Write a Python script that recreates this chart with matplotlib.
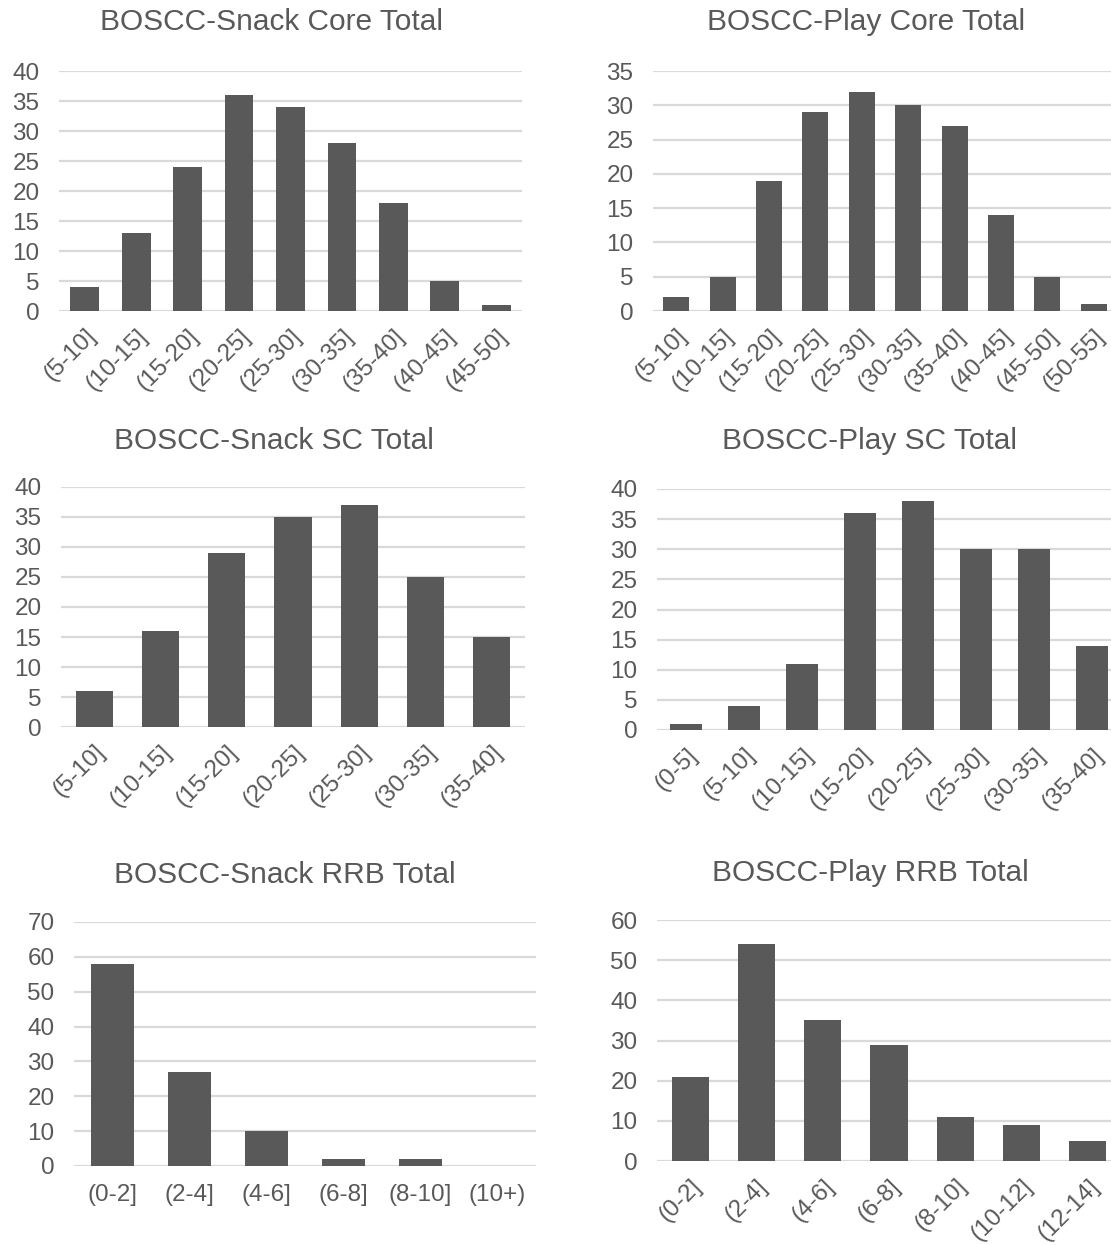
import matplotlib
matplotlib.use('agg')
import matplotlib.pyplot as plt

# score distributions (number of children per score bin)
snack_core_bins = ['(5-10]', '(10-15]', '(15-20]', '(20-25]', '(25-30]', '(30-35]', '(35-40]', '(40-45]', '(45-50]']
snack_core_counts = [4, 13, 24, 36, 34, 28, 18, 5, 1]

play_core_bins = ['(5-10]', '(10-15]', '(15-20]', '(20-25]', '(25-30]', '(30-35]', '(35-40]', '(40-45]', '(45-50]', '(50-55]']
play_core_counts = [2, 5, 19, 29, 32, 30, 27, 14, 5, 1]

snack_sc_bins = ['(5-10]', '(10-15]', '(15-20]', '(20-25]', '(25-30]', '(30-35]', '(35-40]']
snack_sc_counts = [6, 16, 29, 35, 37, 25, 15]

play_sc_bins = ['(0-5]', '(5-10]', '(10-15]', '(15-20]', '(20-25]', '(25-30]', '(30-35]', '(35-40]']
play_sc_counts = [1, 4, 11, 36, 38, 30, 30, 14]

snack_rrb_bins = ['(0-2]', '(2-4]', '(4-6]', '(6-8]', '(8-10]', '(10+)']
snack_rrb_counts = [58, 27, 10, 2, 2, 0]

play_rrb_bins = ['(0-2]', '(2-4]', '(4-6]', '(6-8]', '(8-10]', '(10-12]', '(12-14]']
play_rrb_counts = [21, 54, 35, 29, 11, 9, 5]

W, H = 1111, 1245
BAR = '#595959'
GRID = '#d9d9d9'
TXT = '#595959'

plt.rcParams['font.family'] = ['Liberation Sans', 'DejaVu Sans']

fig = plt.figure(figsize=(W / 100, H / 100), dpi=100)


def panel(box, title, title_xy, bins, counts, ymax, ystep, rotate=True):
    # box = (left, top, right, bottom) in pixels from the top-left corner
    l, t, r, b = box
    ax = fig.add_axes([l / W, 1 - b / H, (r - l) / W, (b - t) / H])
    x = range(len(bins))
    ax.bar(x, counts, width=0.56, color=BAR, zorder=3)
    ax.set_xlim(-0.5, len(bins) - 0.5)
    ax.set_ylim(0, ymax)
    ax.set_yticks(range(0, ymax + 1, ystep))
    ax.yaxis.grid(True, color=GRID, linewidth=1.6, zorder=0)
    ax.set_axisbelow(True)
    for s in ax.spines.values():
        s.set_visible(False)
    ax.tick_params(axis='both', length=0, labelsize=17.5, labelcolor=TXT)
    ax.tick_params(axis='y', pad=14)
    ax.set_xticks(list(x))
    if rotate:
        ax.set_xticklabels(bins, rotation=45, ha='right', va='top',
                           rotation_mode='anchor')
        ax.tick_params(axis='x', pad=10)
    else:
        ax.set_xticklabels(bins)
        ax.tick_params(axis='x', pad=13)
    fig.text(title_xy[0] / W, 1 - title_xy[1] / H, title, ha='center',
             va='center', fontsize=21.5, color=TXT)
    return ax


panel((59, 71, 522, 311), 'BOSCC-Snack Core Total', (272, 22),
      snack_core_bins, snack_core_counts, 40, 5)
panel((653, 71, 1117, 311), 'BOSCC-Play Core Total', (866, 22),
      play_core_bins, play_core_counts, 35, 5)
panel((61, 487, 525, 727), 'BOSCC-Snack SC Total', (274, 441),
      snack_sc_bins, snack_sc_counts, 40, 5)
panel((657, 489, 1121, 730), 'BOSCC-Play SC Total', (870, 441),
      play_sc_bins, play_sc_counts, 40, 5)
panel((74, 922, 536, 1166), 'BOSCC-Snack RRB Total', (285, 875),
      snack_rrb_bins, snack_rrb_counts, 70, 10, rotate=False)
panel((657, 920, 1121, 1161), 'BOSCC-Play RRB Total', (870, 873),
      play_rrb_bins, play_rrb_counts, 60, 10)

fig.savefig('out.png', dpi=100, facecolor='white')
